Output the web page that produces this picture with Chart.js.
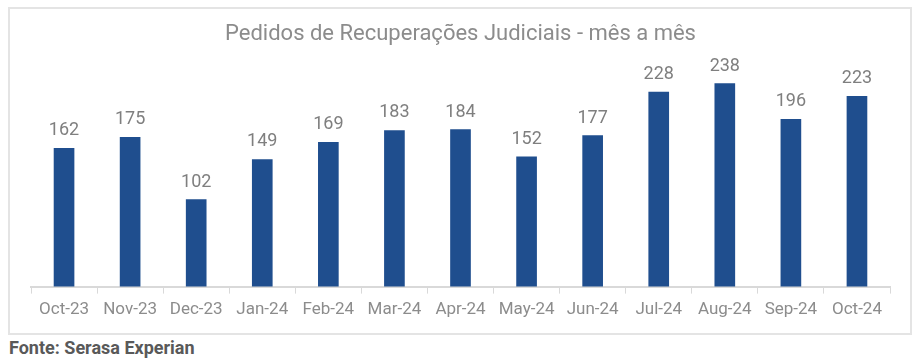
<!DOCTYPE html>
<html>
<head>
<meta charset="utf-8">
<script src="https://cdn.jsdelivr.net/npm/chart.js@4.4.1/dist/chart.umd.min.js"></script>
<style>
html,body{margin:0;padding:0;background:#fff;}
#wrap{position:absolute;left:0;top:0;width:919px;height:363px;}
#frame{position:absolute;left:8px;top:7px;width:900px;height:324px;border:2px solid #e4e4e4;pointer-events:none;}
#c{position:absolute;left:0;top:0;}
#src{position:absolute;left:9px;top:337px;font-family:Roboto,sans-serif;font-weight:bold;font-size:18px;color:#595959;}
</style>
</head>
<body>
<div id="wrap">
<canvas id="c" width="919" height="335"></canvas>
<div id="frame"></div>
<div id="src">Fonte: Serasa Experian</div>
</div>
<script>
const categories = ["Oct-23","Nov-23","Dec-23","Jan-24","Feb-24","Mar-24","Apr-24","May-24","Jun-24","Jul-24","Aug-24","Sep-24","Oct-24"];
const pedidos = [162,175,102,149,169,183,184,152,177,228,238,196,223];
const chartTitle = "Pedidos de Recuperações Judiciais - mês a mês";

const valueLabels = {
  id: 'valueLabels',
  afterDatasetsDraw(chart) {
    const ctx = chart.ctx;
    ctx.save();
    ctx.font = '18px Roboto';
    ctx.fillStyle = '#7f7f7f';
    ctx.textAlign = 'center';
    ctx.textBaseline = 'alphabetic';
    const meta = chart.getDatasetMeta(0);
    meta.data.forEach((bar, i) => {
      ctx.fillText(String(chart.data.datasets[0].data[i]), bar.x, bar.y - 13);
    });
    ctx.restore();
  }
};

new Chart(document.getElementById('c'), {
  type: 'bar',
  data: {
    labels: categories,
    datasets: [{
      data: pedidos,
      backgroundColor: '#1f4e8e',
      barThickness: 20
    }]
  },
  options: {
    responsive: false,
    animation: false,
    layout: { padding: { left: 31, right: 29, top: 0, bottom: 9 } },
    plugins: {
      legend: { display: false },
      tooltip: { enabled: false },
      title: {
        display: true,
        text: chartTitle,
        color: '#8c8c8c',
        font: { family: 'Roboto', size: 22, weight: 'normal' },
        padding: { top: 21, bottom: 14 }
      }
    },
    scales: {
      x: {
        offset: true,
        grid: { display: true, drawOnChartArea: false, drawTicks: true, tickLength: 7, color: '#d9d9d9', offset: true },
        border: { display: true, color: '#d9d9d9', width: 2 },
        ticks: { color: '#8c8c8c', font: { family: 'Roboto', size: 17 }, padding: 6, maxRotation: 0, autoSkip: false }
      },
      y: {
        display: false,
        min: 0,
        max: 264
      }
    }
  },
  plugins: [valueLabels]
});
</script>
</body>
</html>
